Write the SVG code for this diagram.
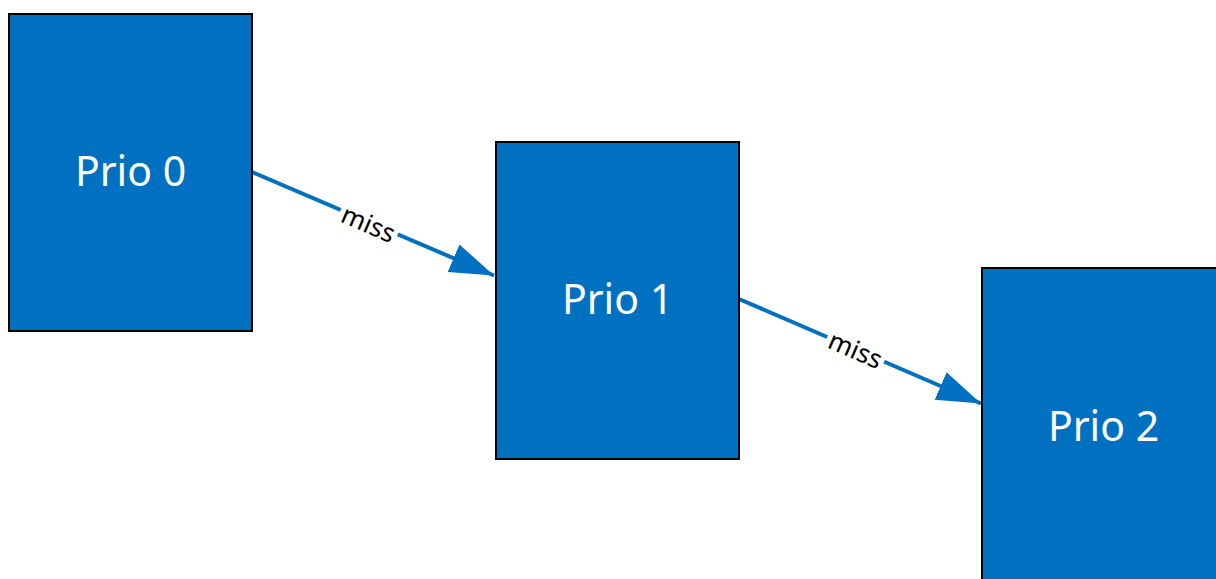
<svg xmlns="http://www.w3.org/2000/svg" width="1216" height="579" viewBox="0 0 1216 579">
<style>
.box{fill:#0070C0;stroke:#000;stroke-width:2}
.lbl{font-family:"Noto Sans","Open Sans",sans-serif;font-size:41px;fill:#fff;text-anchor:middle}
.edge{stroke:#0070C0;stroke-width:4;fill:none}
.elbl{font-family:"Noto Sans","Open Sans",sans-serif;font-size:26px;fill:#000;text-anchor:middle}
</style>
<defs>
<marker id="ah" markerUnits="userSpaceOnUse" markerWidth="46" markerHeight="32" refX="44" refY="15" orient="auto">
<path d="M0,0 L44,15 L0,30 Z" fill="#0070C0"/>
</marker>
</defs>
<rect width="1216" height="579" fill="#fff"/>
<g id="connectors">
<g id="e0">
<line class="edge" x1="252" y1="172" x2="494" y2="275.5" marker-end="url(#ah)"/>
<g transform="translate(368,225) rotate(23.2)">
<rect x="-31" y="-10" width="62" height="20" fill="#fff"/>
<text class="elbl" x="0" y="8">miss</text>
</g>
</g>
<g id="e1">
<line class="edge" x1="739" y1="299" x2="981" y2="403.5" marker-end="url(#ah)"/>
<g transform="translate(855,351) rotate(23.2)">
<rect x="-31" y="-10" width="62" height="20" fill="#fff"/>
<text class="elbl" x="0" y="8">miss</text>
</g>
</g>
</g>
<g id="n0">
<rect class="box" x="9" y="14" width="243" height="317"/>
<text class="lbl" x="130.5" y="186">Prio 0</text>
</g>
<g id="n1">
<rect class="box" x="496" y="142" width="243" height="317"/>
<text class="lbl" x="617.5" y="314">Prio 1</text>
</g>
<g id="n2">
<rect class="box" x="982" y="268" width="243" height="317"/>
<text class="lbl" x="1103.5" y="441">Prio 2</text>
</g>
</svg>
